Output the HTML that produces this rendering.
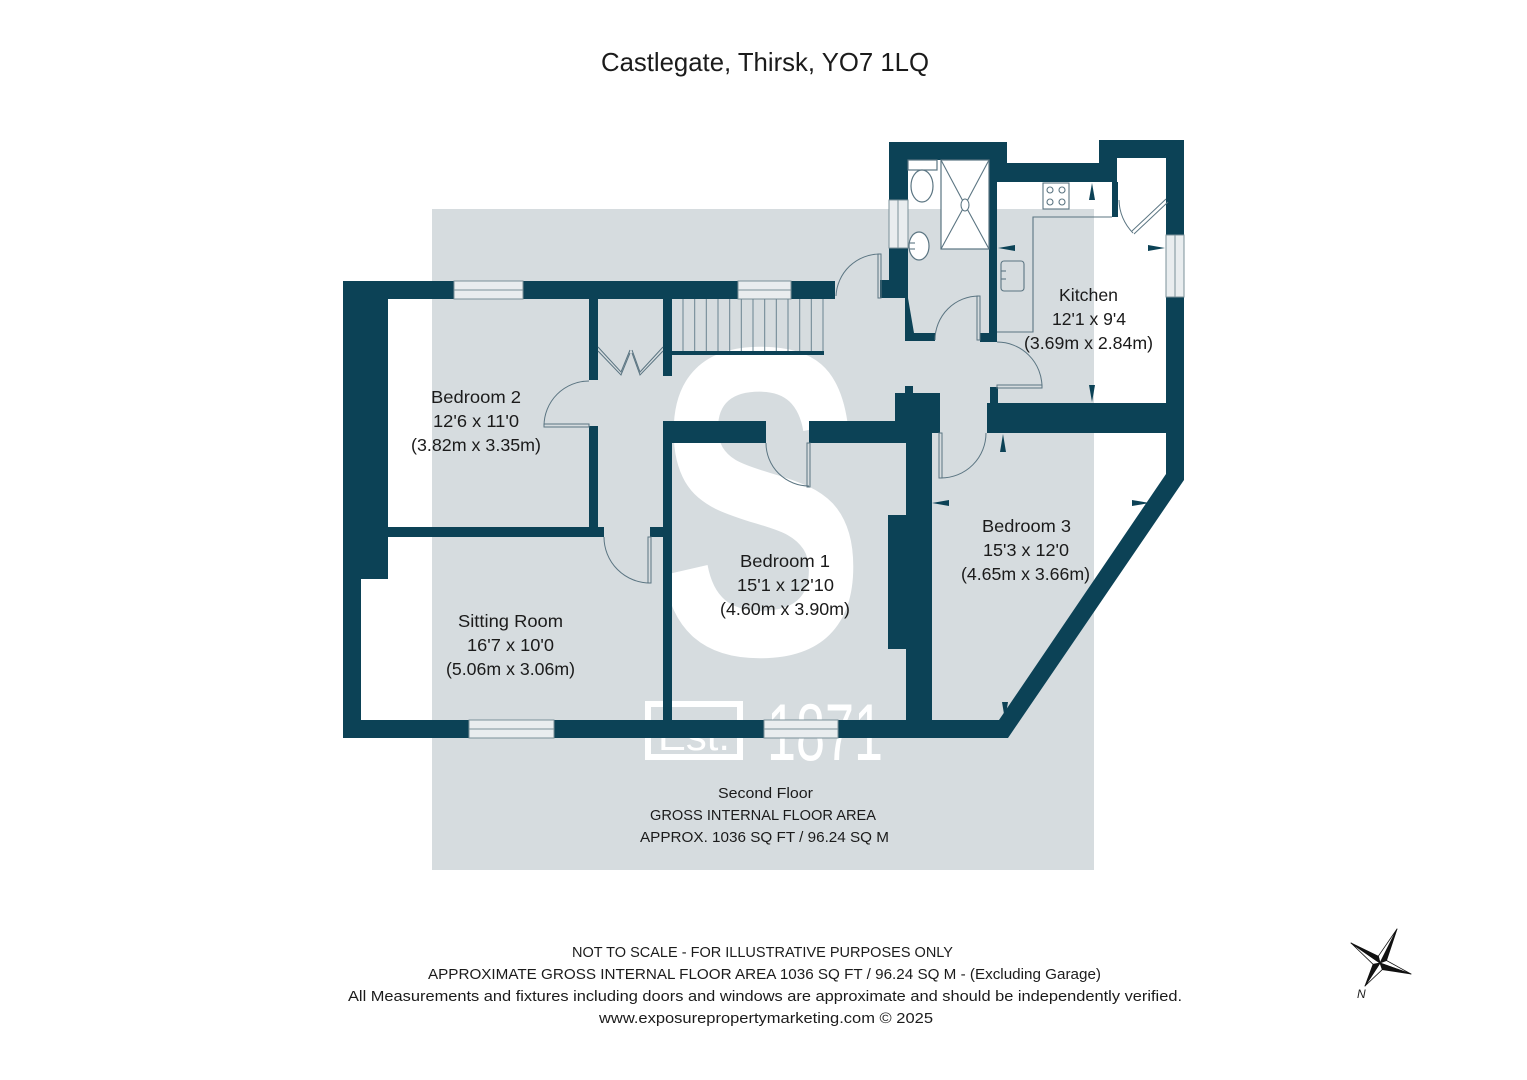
<!DOCTYPE html>
<html>
<head>
<meta charset="utf-8">
<style>
html,body{margin:0;padding:0;background:#fff;}
svg{display:block;}
text{font-family:"Liberation Sans",sans-serif;fill:#1b1b1b;}
</style>
</head>
<body>
<svg width="1527" height="1080" viewBox="0 0 1527 1080" xmlns="http://www.w3.org/2000/svg">
<rect x="0" y="0" width="1527" height="1080" fill="#ffffff"/>
<!-- grey backdrop -->
<rect x="432" y="209" width="662" height="661" fill="#d6dcdf"/>
<!-- S logo -->
<g transform="translate(760,654) scale(0.72,1)">
<text x="0" y="0" text-anchor="middle" style="font-size:440px;font-weight:bold;fill:#ffffff;">S</text>
</g>
<!-- Est 1871 -->
<rect x="648" y="704" width="92" height="53" fill="none" stroke="#ffffff" stroke-width="6"/>
<text x="658" y="750" textLength="72" lengthAdjust="spacingAndGlyphs" style="font-size:40px;fill:#ffffff;">Est.</text>
<text x="767" y="760" textLength="116" lengthAdjust="spacingAndGlyphs" style="font-size:81px;fill:#ffffff;">1871</text>

<!-- WALLS -->
<g fill="#0c4256">
<rect x="343" y="281" width="45" height="298"/>
<rect x="343" y="579" width="18" height="159"/>
<rect x="343" y="281" width="492" height="18"/>
<rect x="343" y="720" width="665" height="18"/>
<rect x="385" y="527" width="219" height="10"/>
<rect x="650" y="527" width="13" height="10"/>
<rect x="589" y="299" width="9" height="81"/>
<rect x="589" y="426" width="9" height="111"/>
<rect x="663" y="299" width="9" height="77"/>
<rect x="663" y="421" width="9" height="317"/>
<rect x="663" y="421" width="103" height="22"/>
<rect x="809" y="421" width="97" height="22"/>
<rect x="895" y="393" width="45" height="40"/>
<rect x="905" y="386" width="8" height="8"/>
<rect x="906" y="421" width="26" height="317"/>
<rect x="888" y="515" width="18" height="134"/>
<rect x="987" y="403" width="181" height="30"/>
<rect x="990" y="387" width="8" height="16"/>
<rect x="1166" y="140" width="18" height="95"/>
<rect x="1166" y="297" width="18" height="136"/>
<polygon points="1166,433 1184,433 1184,480 1008,738 906,738 906,720 999,720 1166,474"/>
<rect x="1099" y="140" width="85" height="18"/>
<rect x="1099" y="140" width="18" height="42"/>
<rect x="1112" y="182" width="6" height="35"/>
<rect x="989" y="163" width="111" height="19"/>
<rect x="889" y="142" width="118" height="18"/>
<rect x="989" y="142" width="18" height="21"/>
<rect x="989" y="160" width="8" height="182"/>
<rect x="889" y="142" width="19" height="58"/>
<rect x="889" y="248" width="19" height="50"/>
<rect x="880" y="280" width="27" height="18"/>
<polygon points="905,298 908,298 914,333 935,333 935,341 905,341"/>
<rect x="980" y="333" width="17" height="9"/>
<!-- stair rail -->
<rect x="672" y="351" width="152" height="4"/>
</g>

<!-- WINDOWS -->
<g fill="#e9edef" stroke="#7b919a" stroke-width="1">
<rect x="454" y="281" width="69" height="18"/>
<line x1="454" y1="290" x2="523" y2="290"/>
<rect x="738" y="281" width="53" height="18"/>
<line x1="738" y1="290" x2="791" y2="290"/>
<rect x="469" y="720" width="85" height="18"/>
<line x1="469" y1="729" x2="554" y2="729"/>
<rect x="764" y="720" width="74" height="18"/>
<line x1="764" y1="729" x2="838" y2="729"/>
<rect x="889" y="200" width="19" height="48"/>
<line x1="898" y1="200" x2="898" y2="248"/>
<rect x="1166" y="235" width="18" height="62"/>
<line x1="1175" y1="235" x2="1175" y2="297"/>
</g>

<!-- STAIRS -->
<g stroke="#6a8390" stroke-width="1">
<line x1="683" y1="299" x2="683" y2="351"/>
<line x1="694.7" y1="299" x2="694.7" y2="351"/>
<line x1="706.3" y1="299" x2="706.3" y2="351"/>
<line x1="718" y1="299" x2="718" y2="351"/>
<line x1="729.7" y1="299" x2="729.7" y2="351"/>
<line x1="741.3" y1="299" x2="741.3" y2="351"/>
<line x1="753" y1="299" x2="753" y2="351"/>
<line x1="764.7" y1="299" x2="764.7" y2="351"/>
<line x1="776.3" y1="299" x2="776.3" y2="351"/>
<line x1="788" y1="299" x2="788" y2="351"/>
<line x1="799.7" y1="299" x2="799.7" y2="351"/>
<line x1="811.3" y1="299" x2="811.3" y2="351"/>
<line x1="823" y1="299" x2="823" y2="351"/>
</g>

<!-- DOORS -->
<g fill="none" stroke="#5b7582" stroke-width="1">
<rect x="544" y="424" width="45" height="3"/>
<path d="M544,426 A45,45 0 0 1 589,381"/>
<rect x="648" y="537" width="3" height="46"/>
<path d="M604,537 A46,46 0 0 0 650,583"/>
<rect x="807" y="443" width="3" height="44"/>
<path d="M766,443 A43,43 0 0 0 809,486"/>
<rect x="939" y="433" width="3" height="45"/>
<path d="M941,478 A45,45 0 0 0 986,433"/>
<rect x="997" y="385" width="45" height="3"/>
<path d="M997,342 A45,45 0 0 1 1042,387"/>
<rect x="977" y="296" width="3" height="44"/>
<path d="M935,340 A44,44 0 0 1 979,296"/>
<rect x="878" y="254" width="3" height="44"/>
<path d="M836,296 A44,44 0 0 1 880,254"/>
<path d="M1166,199 L1132,231 M1168,202 L1134,234"/>
<path d="M1119,200 A48,48 0 0 0 1133,233"/>
<!-- bifold -->
<polyline points="598,347 621,372 630,350"/>
<polyline points="598,351 621,375 630,353"/>
<polyline points="663,347 640,372 632,350"/>
<polyline points="663,351 640,375 632,353"/>
</g>

<!-- FIXTURES -->
<g fill="#ffffff" stroke="#5b7582" stroke-width="1.2">
<rect x="908" y="160" width="29" height="10"/>
<ellipse cx="922" cy="186" rx="11" ry="16"/>
<rect x="941" y="160" width="48" height="89"/>
<ellipse cx="919" cy="246" rx="10" ry="14"/>
</g>
<g fill="none" stroke="#5b7582" stroke-width="1.1">
<line x1="941" y1="160" x2="965" y2="205"/>
<line x1="989" y1="160" x2="965" y2="205"/>
<line x1="941" y1="249" x2="965" y2="205"/>
<line x1="989" y1="249" x2="965" y2="205"/>
<ellipse cx="965" cy="205" rx="4" ry="6" fill="#ffffff"/>
<line x1="909" y1="243" x2="915" y2="243"/>
<line x1="909" y1="249" x2="915" y2="249"/>
<polyline points="997,332 1033,332 1033,217 1112,217"/>
<rect x="1043" y="183" width="26" height="26"/>
<circle cx="1050" cy="190" r="3"/>
<circle cx="1062" cy="190" r="3"/>
<circle cx="1050" cy="202" r="3"/>
<circle cx="1062" cy="202" r="3"/>
<rect x="1001" y="261" width="23" height="30" rx="3"/>
<line x1="1001" y1="271" x2="1006" y2="271"/>
<line x1="1001" y1="279" x2="1006" y2="279"/>
</g>

<!-- DIMENSION ARROWS -->
<g fill="#0c4256">
<polygon points="1092,183 1089,200 1095,200"/>
<polygon points="1092,402 1089,385 1095,385"/>
<polygon points="998,248 1015,245 1015,251"/>
<polygon points="1165,248 1148,245 1148,251"/>
<polygon points="1003,434 1000,452 1006,452"/>
<polygon points="1005,720 1002,702 1008,702"/>
<polygon points="932,503 949,500 949,506"/>
<polygon points="1150,503 1132,500 1132,506"/>
</g>

<!-- TITLE -->
<text x="601" y="71" textLength="328" lengthAdjust="spacingAndGlyphs" style="font-size:26px;">Castlegate, Thirsk, YO7 1LQ</text>

<!-- ROOM LABELS -->
<g style="font-size:17.5px;">
<text x="431" y="403" textLength="90" lengthAdjust="spacingAndGlyphs">Bedroom 2</text>
<text x="433" y="427" textLength="86" lengthAdjust="spacingAndGlyphs">12'6 x 11'0</text>
<text x="411" y="451" textLength="130" lengthAdjust="spacingAndGlyphs">(3.82m x 3.35m)</text>

<text x="458" y="627" textLength="105" lengthAdjust="spacingAndGlyphs">Sitting Room</text>
<text x="467" y="651" textLength="87" lengthAdjust="spacingAndGlyphs">16'7 x 10'0</text>
<text x="446" y="675" textLength="129" lengthAdjust="spacingAndGlyphs">(5.06m x 3.06m)</text>

<text x="740" y="567" textLength="90" lengthAdjust="spacingAndGlyphs">Bedroom 1</text>
<text x="737" y="591" textLength="97" lengthAdjust="spacingAndGlyphs">15'1 x 12'10</text>
<text x="720" y="615" textLength="130" lengthAdjust="spacingAndGlyphs">(4.60m x 3.90m)</text>

<text x="982" y="532" textLength="89" lengthAdjust="spacingAndGlyphs">Bedroom 3</text>
<text x="983" y="556" textLength="86" lengthAdjust="spacingAndGlyphs">15'3 x 12'0</text>
<text x="961" y="580" textLength="129" lengthAdjust="spacingAndGlyphs">(4.65m x 3.66m)</text>

<text x="1059" y="301" textLength="59" lengthAdjust="spacingAndGlyphs">Kitchen</text>
<text x="1052" y="325" textLength="74" lengthAdjust="spacingAndGlyphs">12'1 x 9'4</text>
<text x="1024" y="349" textLength="129" lengthAdjust="spacingAndGlyphs">(3.69m x 2.84m)</text>
</g>

<!-- FLOOR INFO -->
<g style="font-size:15px;">
<text x="718" y="798" textLength="95" lengthAdjust="spacingAndGlyphs">Second Floor</text>
<text x="650" y="820" textLength="226" lengthAdjust="spacingAndGlyphs">GROSS INTERNAL FLOOR AREA</text>
<text x="640" y="842" textLength="249" lengthAdjust="spacingAndGlyphs">APPROX. 1036 SQ FT / 96.24 SQ M</text>
</g>

<!-- DISCLAIMER -->
<g style="font-size:15px;">
<text x="572" y="957" textLength="381" lengthAdjust="spacingAndGlyphs">NOT TO SCALE - FOR ILLUSTRATIVE PURPOSES ONLY</text>
<text x="428" y="979" textLength="673" lengthAdjust="spacingAndGlyphs">APPROXIMATE GROSS INTERNAL FLOOR AREA 1036 SQ FT / 96.24 SQ M - (Excluding Garage)</text>
<text x="348" y="1001" textLength="834" lengthAdjust="spacingAndGlyphs">All Measurements and fixtures including doors and windows are approximate and should be independently verified.</text>
<text x="599" y="1023" textLength="334" lengthAdjust="spacingAndGlyphs">www.exposurepropertymarketing.com © 2025</text>
</g>

<!-- COMPASS -->
<g stroke="#111" stroke-width="0.8" stroke-linejoin="round">
<polygon points="1397,929 1380,963 1378.3,956.2" fill="#ffffff"/>
<polygon points="1397,929 1380,963 1386.5,960.5" fill="#111"/>
<polygon points="1411,974 1380,963 1386.5,960.5" fill="#ffffff"/>
<polygon points="1411,974 1380,963 1382.3,969.6" fill="#111"/>
<polygon points="1365,986 1380,963 1382.3,969.6" fill="#ffffff"/>
<polygon points="1365,986 1380,963 1373.1,964.3" fill="#111"/>
<polygon points="1351,943 1380,963 1373.1,964.3" fill="#ffffff"/>
<polygon points="1351,943 1380,963 1378.3,956.2" fill="#111"/>
</g>
<text x="1357" y="998" style="font-size:12px;font-style:italic;">N</text>
</svg>
</body>
</html>
